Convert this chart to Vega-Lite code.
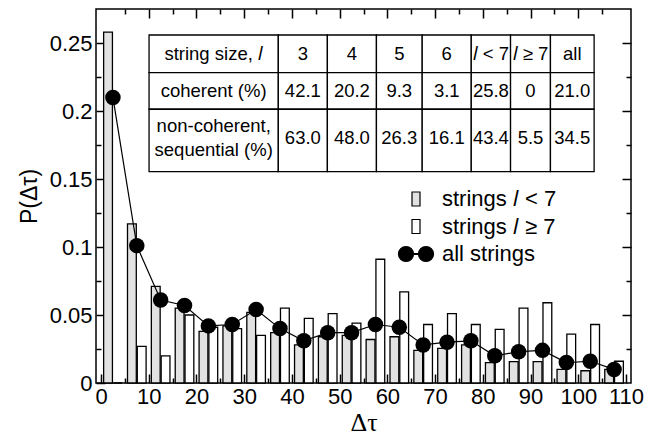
{
  "$schema": "https://vega.github.io/schema/vega-lite/v6.json",
  "width": 535,
  "height": 374,
  "autosize": {"type": "none"},
  "padding": {"left": 96, "top": 9, "right": 34, "bottom": 53},
  "background": "white",
  "config": {
    "font": "Liberation Sans",
    "view": {"stroke": "black", "strokeWidth": 1.5},
    "axis": {
      "labelFont": "Liberation Sans",
      "labelFontSize": 22,
      "labelColor": "black",
      "tickColor": "black",
      "tickWidth": 1.5,
      "titleFont": "Liberation Sans",
      "titleFontWeight": "normal",
      "titleColor": "black",
      "grid": false,
      "domain": false,
      "labelFlush": false,
      "labelOverlap": false
    },
    "legend": {
      "title": null,
      "orient": "none",
      "legendX": 309,
      "legendY": 179,
      "padding": 0,
      "symbolSize": 400,
      "symbolStrokeWidth": 1.2,
      "symbolOpacity": 1,
      "labelFont": "Liberation Sans",
      "labelFontSize": 22,
      "labelColor": "black",
      "labelOffset": 15,
      "labelLimit": 300,
      "rowPadding": 5.5
    }
  },
  "datasets": {
    "bins": [
      {"dt": 2.5, "lt7": 0.258, "ge7": 0, "allStrings": 0.210},
      {"dt": 7.5, "lt7": 0.117, "ge7": 0.027, "allStrings": 0.101},
      {"dt": 12.5, "lt7": 0.071, "ge7": 0.020, "allStrings": 0.061},
      {"dt": 17.5, "lt7": 0.055, "ge7": 0.050, "allStrings": 0.057},
      {"dt": 22.5, "lt7": 0.038, "ge7": 0.041, "allStrings": 0.042},
      {"dt": 27.5, "lt7": 0.042, "ge7": 0.040, "allStrings": 0.043},
      {"dt": 32.5, "lt7": 0.052, "ge7": 0.035, "allStrings": 0.054},
      {"dt": 37.5, "lt7": 0.037, "ge7": 0.055, "allStrings": 0.040},
      {"dt": 42.5, "lt7": 0.028, "ge7": 0.0475, "allStrings": 0.031},
      {"dt": 47.5, "lt7": 0.034, "ge7": 0.051, "allStrings": 0.037},
      {"dt": 52.5, "lt7": 0.035, "ge7": 0.044, "allStrings": 0.037},
      {"dt": 57.5, "lt7": 0.032, "ge7": 0.091, "allStrings": 0.043},
      {"dt": 62.5, "lt7": 0.034, "ge7": 0.067, "allStrings": 0.041},
      {"dt": 67.5, "lt7": 0.024, "ge7": 0.043, "allStrings": 0.028},
      {"dt": 72.5, "lt7": 0.0255, "ge7": 0.051, "allStrings": 0.030},
      {"dt": 77.5, "lt7": 0.028, "ge7": 0.043, "allStrings": 0.031},
      {"dt": 82.5, "lt7": 0.015, "ge7": 0.0395, "allStrings": 0.020},
      {"dt": 87.5, "lt7": 0.0157, "ge7": 0.055, "allStrings": 0.023},
      {"dt": 92.5, "lt7": 0.0157, "ge7": 0.059, "allStrings": 0.024},
      {"dt": 97.5, "lt7": 0.010, "ge7": 0.036, "allStrings": 0.015},
      {"dt": 102.5, "lt7": 0.009, "ge7": 0.043, "allStrings": 0.016},
      {"dt": 107.5, "lt7": 0.010, "ge7": 0.016, "allStrings": 0.010}
    ],
    "tableCols": [
      {"col": "label", "x0": 10.07, "x1": 37.15, "xc": 23.61},
      {"col": "3", "x0": 37.15, "x1": 47.43, "xc": 42.29},
      {"col": "4", "x0": 47.43, "x1": 57.71, "xc": 52.57},
      {"col": "5", "x0": 57.71, "x1": 67.30, "xc": 62.50},
      {"col": "6", "x0": 67.30, "x1": 77.58, "xc": 72.44},
      {"col": "lt7", "x0": 77.58, "x1": 85.81, "xc": 81.69},
      {"col": "ge7", "x0": 85.81, "x1": 94.17, "xc": 89.99},
      {"col": "all", "x0": 94.17, "x1": 103.32, "xc": 98.74}
    ],
    "tableRows": [
      {"row": "head", "y0": 0.2559, "y1": 0.2282, "yc": 0.2420},
      {"row": "coherent", "y0": 0.2282, "y1": 0.2013, "yc": 0.2147},
      {"row": "sequential", "y0": 0.2013, "y1": 0.1554, "yc": 0.1805}
    ],
    "tableCells": [
      {"row": "head", "col": "label", "text": "string size,  𝑙"},
      {"row": "head", "col": "3", "text": "3"},
      {"row": "head", "col": "4", "text": "4"},
      {"row": "head", "col": "5", "text": "5"},
      {"row": "head", "col": "6", "text": "6"},
      {"row": "head", "col": "lt7", "text": "𝑙 < 7"},
      {"row": "head", "col": "ge7", "text": "𝑙 ≥ 7"},
      {"row": "head", "col": "all", "text": "all"},
      {"row": "coherent", "col": "label", "text": "coherent (%)"},
      {"row": "coherent", "col": "3", "text": "42.1"},
      {"row": "coherent", "col": "4", "text": "20.2"},
      {"row": "coherent", "col": "5", "text": "9.3"},
      {"row": "coherent", "col": "6", "text": "3.1"},
      {"row": "coherent", "col": "lt7", "text": "25.8"},
      {"row": "coherent", "col": "ge7", "text": "0"},
      {"row": "coherent", "col": "all", "text": "21.0"},
      {"row": "sequential", "col": "label", "text": ["non-coherent,", "sequential (%)"]},
      {"row": "sequential", "col": "3", "text": "63.0"},
      {"row": "sequential", "col": "4", "text": "48.0"},
      {"row": "sequential", "col": "5", "text": "26.3"},
      {"row": "sequential", "col": "6", "text": "16.1"},
      {"row": "sequential", "col": "lt7", "text": "43.4"},
      {"row": "sequential", "col": "ge7", "text": "5.5"},
      {"row": "sequential", "col": "all", "text": "34.5"}
    ]
  },
  "layer": [
    {
      "data": {"name": "bins"},
      "mark": {"type": "bar", "orient": "vertical", "width": 8.8, "xOffset": -4.9, "stroke": "black", "strokeWidth": 1.3, "opacity": 1},
      "encoding": {
        "x": {
          "field": "dt", "type": "quantitative",
          "scale": {"domain": [0, 110], "nice": false, "zero": true},
          "axis": {"orient": "bottom", "values": [0, 10, 20, 30, 40, 50, 60, 70, 80, 90, 100, 110], "tickSize": -9, "labelPadding": 12,
                   "title": "Δτ", "titleFont": "Liberation Serif", "titleFontSize": 26, "titlePadding": 2}
        },
        "y": {
          "field": "lt7", "type": "quantitative", "stack": null,
          "scale": {"domain": [0, 0.275], "nice": false},
          "axis": {"orient": "left", "values": [0, 0.05, 0.1, 0.15, 0.2, 0.25], "format": ".2~f", "tickSize": -9, "labelPadding": 13,
                   "title": "P(Δτ)", "titleFontSize": 23, "titlePadding": 8}
        },
        "fill": {
          "datum": "strings 𝑙 < 7", "type": "nominal",
          "scale": {"domain": ["strings 𝑙 < 7", "strings 𝑙 ≥ 7", "all strings"], "range": ["#e2e2e2", "#ffffff", "#000000"]}
        }
      }
    },
    {
      "data": {"name": "bins"},
      "mark": {"type": "bar", "orient": "vertical", "width": 8.8, "xOffset": 4.9, "stroke": "black", "strokeWidth": 1.3, "opacity": 1},
      "encoding": {
        "x": {
          "field": "dt", "type": "quantitative",
          "scale": {"domain": [0, 110], "nice": false, "zero": true},
          "axis": {"orient": "top", "values": [10, 20, 30, 40, 50, 60, 70, 80, 90, 100], "tickSize": -9, "labels": false, "title": null}
        },
        "y": {
          "field": "ge7", "type": "quantitative", "stack": null,
          "scale": {"domain": [0, 0.275], "nice": false},
          "axis": {"orient": "right", "values": [0.05, 0.1, 0.15, 0.2, 0.25], "tickSize": -9, "labels": false, "title": null}
        },
        "fill": {"datum": "strings 𝑙 ≥ 7", "type": "nominal"}
      }
    },
    {
      "data": {"name": "tableCells"},
      "transform": [
        {"lookup": "col", "from": {"data": {"name": "tableCols"}, "key": "col", "fields": ["x0", "x1", "xc"]}},
        {"lookup": "row", "from": {"data": {"name": "tableRows"}, "key": "row", "fields": ["y0", "y1", "yc"]}}
      ],
      "layer": [
        {
          "mark": {"type": "rect", "fill": "white", "stroke": "black", "strokeWidth": 1.3},
          "encoding": {
            "x": {"field": "x0", "type": "quantitative", "scale": {"domain": [0, 110], "nice": false, "zero": true}, "axis": null},
            "x2": {"field": "x1"},
            "y": {"field": "y0", "type": "quantitative", "scale": {"domain": [0, 0.275], "nice": false}, "axis": null},
            "y2": {"field": "y1"}
          }
        },
        {
          "transform": [{"filter": "datum.row !== 'sequential' || datum.col !== 'label'"}],
          "mark": {"type": "text", "font": "Liberation Sans", "fontSize": 18.5, "color": "black", "align": "center", "baseline": "middle"},
          "encoding": {
            "x": {"field": "xc", "type": "quantitative", "scale": {"domain": [0, 110], "nice": false, "zero": true}, "axis": null},
            "y": {"field": "yc", "type": "quantitative", "scale": {"domain": [0, 0.275], "nice": false}, "axis": null},
            "text": {"field": "text", "type": "nominal"}
          }
        },
        {
          "transform": [{"filter": "datum.row === 'sequential' && datum.col === 'label'"}],
          "mark": {"type": "text", "font": "Liberation Sans", "fontSize": 18.5, "color": "black", "align": "center", "baseline": "middle", "lineHeight": 24, "dy": -12},
          "encoding": {
            "x": {"field": "xc", "type": "quantitative", "scale": {"domain": [0, 110], "nice": false, "zero": true}, "axis": null},
            "y": {"field": "yc", "type": "quantitative", "scale": {"domain": [0, 0.275], "nice": false}, "axis": null},
            "text": {"field": "text", "type": "nominal"}
          }
        }
      ]
    },
    {
      "data": {"name": "bins"},
      "mark": {"type": "line", "color": "black", "strokeWidth": 1.2},
      "encoding": {
        "x": {
          "field": "dt", "type": "quantitative",
          "scale": {"domain": [0, 110], "nice": false, "zero": true},
          "axis": {"orient": "bottom", "values": [5, 15, 25, 35, 45, 55, 65, 75, 85, 95, 105], "tickSize": -5, "labels": false, "title": null}
        },
        "y": {
          "field": "allStrings", "type": "quantitative",
          "scale": {"domain": [0, 0.275], "nice": false},
          "axis": {"orient": "left", "values": [0.025, 0.075, 0.125, 0.175, 0.225], "tickSize": -5, "labels": false, "title": null}
        }
      }
    },
    {
      "data": {"name": "bins"},
      "mark": {"type": "point", "shape": "circle", "filled": true, "size": 240, "opacity": 1},
      "encoding": {
        "x": {
          "field": "dt", "type": "quantitative",
          "scale": {"domain": [0, 110], "nice": false, "zero": true},
          "axis": {"orient": "top", "values": [5, 15, 25, 35, 45, 55, 65, 75, 85, 95, 105], "tickSize": -5, "labels": false, "title": null}
        },
        "y": {
          "field": "allStrings", "type": "quantitative",
          "scale": {"domain": [0, 0.275], "nice": false},
          "axis": {"orient": "right", "values": [0.025, 0.075, 0.125, 0.175, 0.225], "tickSize": -5, "labels": false, "title": null}
        },
        "fill": {"datum": "all strings", "type": "nominal"}
      }
    },
    {
      "data": {"values": []},
      "mark": {"type": "point", "filled": true, "opacity": 1, "strokeWidth": 1.2},
      "encoding": {
        "fill": {"field": "series", "type": "nominal",
                 "scale": {"domain": ["strings 𝑙 < 7", "strings 𝑙 ≥ 7", "all strings"], "range": ["#e2e2e2", "#ffffff", "#000000"]}},
        "stroke": {"field": "series", "type": "nominal",
                   "scale": {"domain": ["strings 𝑙 < 7", "strings 𝑙 ≥ 7", "all strings"], "range": ["#000000", "#000000", "#000000"]}},
        "shape": {"field": "series", "type": "nominal",
                  "scale": {"domain": ["strings 𝑙 < 7", "strings 𝑙 ≥ 7", "all strings"],
                            "range": ["M-0.4,-0.7H0.4V0.7H-0.4Z", "M-0.4,-0.7H0.4V0.7H-0.4Z",
                                      "M-1.75,0A0.75,0.75 0 1,0 -0.25,0A0.75,0.75 0 1,0 -1.75,0Z M0.25,0A0.75,0.75 0 1,0 1.75,0A0.75,0.75 0 1,0 0.25,0Z M-1,-0.05H1V0.05H-1Z"]}}
      }
    }
  ],
  "resolve": {"axis": {"x": "independent", "y": "independent"}}
}
